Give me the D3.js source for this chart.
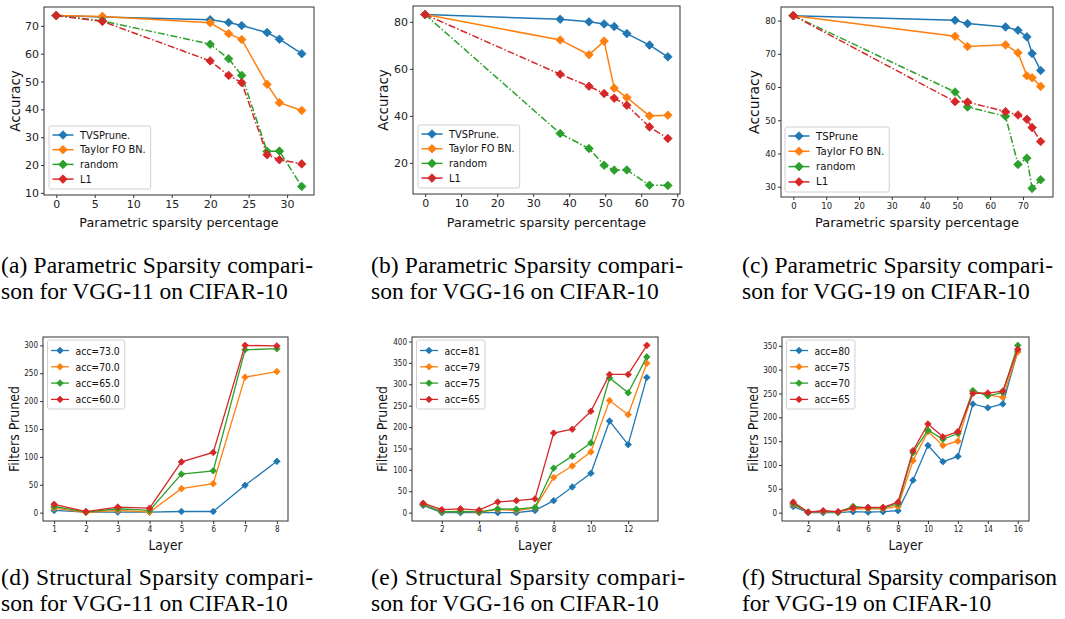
<!DOCTYPE html>
<html>
<head>
<meta charset="utf-8">
<script src="https://cdn.jsdelivr.net/npm/d3@7"></script>
<style>
  body { margin: 0; background: #fff; }
  svg { display: block; }
  .axis path, .axis line { stroke: #333; }
  .axis text { fill: #222; font-family: "DejaVu Sans", sans-serif; }
  .cap { font-family: "Liberation Serif", "Times New Roman", serif; fill: #000; }
</style>
</head>
<body>
<div id="figure"></div>
<script>
// ---- top row: accuracy vs parametric sparsity ----
var aX = [0, 6, 20, 22.4, 24.1, 27.4, 29, 31.9];
var aTVS = [73.7, 73.2, 72.2, 71.2, 70.1, 67.6, 65.2, 60.0];
var aTaylor = [73.7, 73.4, 71.1, 67.2, 65.1, 49.0, 42.4, 39.6];
var aRandom = [73.7, 71.8, 63.4, 58.2, 52.2, 24.9, 25.0, 12.3];
var aL1 = [73.7, 71.6, 57.4, 52.2, 49.6, 23.7, 21.9, 20.4];

var bX = [0, 37.5, 45.5, 49.7, 52.5, 56.0, 62.3, 67.4];
var bTVS = [83.1, 81.1, 80.0, 79.1, 78.0, 75.0, 70.1, 65.1];
var bTaylor = [83.1, 72.3, 66.0, 71.8, 51.8, 47.8, 40.0, 40.3];
var bRandom = [83.1, 32.5, 26.1, 19.0, 16.9, 17.0, 10.5, 10.4];
var bL1 = [83.1, 57.7, 52.6, 49.5, 47.5, 44.5, 35.3, 30.4];

var cX = [0, 49.3, 53.1, 64.7, 68.5, 71.2, 72.8, 75.4];
var cTS = [81.5, 80.1, 79.1, 78.1, 77.1, 75.1, 70.1, 65.0];
var cTaylor = [81.5, 75.3, 72.2, 72.7, 70.3, 63.4, 62.8, 60.2];
var cRandom = [81.5, 58.5, 54.0, 51.2, 36.7, 38.6, 29.5, 32.1];
var cL1 = [81.5, 55.6, 55.5, 52.6, 51.6, 50.3, 47.8, 43.6];

var methodNames = ["TVSPrune.", "Taylor FO BN.", "random", "L1"];
var methodNamesC = ["TSPrune", "Taylor FO BN.", "random", "L1"];

// ---- bottom row: filters pruned per layer ----
var dLayers = [1, 2, 3, 4, 5, 6, 7, 8];
var dAcc73 = [4, 1, 1, 1, 2, 2, 49, 92];
var dAcc70 = [8, 0, 4, 1, 43, 52, 243, 253];
var dAcc65 = [11, 1, 7, 4, 69, 75, 292, 294];
var dAcc60 = [15, 2, 10, 8, 91, 108, 300, 299];
var dNames = ["acc=73.0", "acc=70.0", "acc=65.0", "acc=60.0"];

var eLayers = [1, 2, 3, 4, 5, 6, 7, 8, 9, 10, 11, 12, 13];
var eAcc81 = [17, 0, 0, 0, 0, 0, 5, 28, 60, 92, 214, 159, 316];
var eAcc79 = [19, 2, 3, 1, 7, 5, 11, 82, 109, 142, 262, 229, 349];
var eAcc75 = [19, 2, 3, 2, 9, 8, 12, 104, 132, 163, 315, 280, 364];
var eAcc65 = [22, 7, 9, 6, 25, 28, 32, 186, 195, 237, 323, 323, 391];
var eNames = ["acc=81", "acc=79", "acc=75", "acc=65"];

var fLayers = [1, 2, 3, 4, 5, 6, 7, 8, 9, 10, 11, 12, 13, 14, 15, 16];
var fAcc80 = [13, 0, 0, 0, 2, 1, 2, 4, 68, 141, 107, 118, 228, 220, 228, 339];
var fAcc75 = [17, 1, 2, 1, 8, 8, 8, 13, 109, 170, 141, 150, 254, 247, 242, 337];
var fAcc70 = [19, 1, 3, 1, 13, 10, 10, 18, 126, 173, 154, 166, 256, 245, 252, 351];
var fAcc65 = [22, 1, 4, 2, 10, 11, 11, 22, 130, 186, 159, 170, 250, 251, 255, 343];
var fNames = ["acc=80", "acc=75", "acc=70", "acc=65"];

var colors = ["#1f77b4", "#ff7f0e", "#2ca02c", "#d62728"];

var captions = [
  ["(a) Parametric Sparsity compari-", "son for VGG-11 on CIFAR-10"],
  ["(b) Parametric Sparsity compari-", "son for VGG-16 on CIFAR-10"],
  ["(c) Parametric Sparsity compari-", "son for VGG-19 on CIFAR-10"],
  ["(d) Structural Sparsity compari-", "son for VGG-11 on CIFAR-10"],
  ["(e) Structural Sparsity compari-", "son for VGG-16 on CIFAR-10"],
  ["(f) Structural Sparsity comparison", "for VGG-19 on CIFAR-10"]
];

var W = 1065, H = 619;
var svg = d3.select("#figure").append("svg").attr("width", W).attr("height", H);

function diamond(r) {
  return "M0," + (-r) + "L" + r + ",0L0," + r + "L" + (-r) + ",0Z";
}

// matplotlib style 5% margins
function padded(vals) {
  var ext = d3.extent(vals);
  var p = (ext[1] - ext[0]) * 0.05;
  return [ext[0] - p, ext[1] + p];
}

function drawPanel(cfg) {
  var g = svg.append("g").attr("transform", "translate(" + cfg.box.x + "," + cfg.box.y + ")");
  var w = cfg.box.w, h = cfg.box.h;
  var allY = d3.merge(cfg.series);
  var x = d3.scaleLinear().domain(padded(cfg.xs)).range([0, w]);
  var y = d3.scaleLinear().domain(padded(allY)).range([h, 0]);

  var xa = g.append("g").attr("class", "axis").attr("transform", "translate(0," + h + ")")
    .call(d3.axisBottom(x).tickValues(cfg.xTicks).tickSize(3).tickPadding(2.5).tickFormat(d3.format("d")));
  var ya = g.append("g").attr("class", "axis")
    .call(d3.axisLeft(y).tickValues(cfg.yTicks).tickSize(3).tickPadding(2).tickFormat(d3.format("d")));
  [xa, ya].forEach(function (a) {
    a.select(".domain").remove();
    a.selectAll("text").style("font-size", cfg.tickFont + "px").style("font-family", cfg.font);
  });
  g.append("rect").attr("width", w).attr("height", h)
    .attr("fill", "none").attr("stroke", "#333").attr("stroke-width", 1);

  var line = d3.line().x(function (d) { return x(d[0]); }).y(function (d) { return y(d[1]); });
  cfg.series.forEach(function (vals, i) {
    var pts = cfg.xs.map(function (xv, j) { return [xv, vals[j]]; });
    g.append("path").datum(pts).attr("d", line)
      .attr("fill", "none").attr("stroke", colors[i]).attr("stroke-width", cfg.lw)
      .attr("stroke-dasharray", cfg.dashed[i] ? "7,2.2,1.5,2.2" : null);
    g.selectAll(null).data(pts).enter().append("path")
      .attr("d", diamond(cfg.mr))
      .attr("transform", function (d) { return "translate(" + x(d[0]) + "," + y(d[1]) + ")"; })
      .attr("fill", colors[i]).attr("stroke", colors[i]).attr("stroke-width", 0.8);
  });

  // axis titles
  g.append("text").attr("x", w / 2).attr("y", h + cfg.xlabOff)
    .attr("text-anchor", "middle").attr("dominant-baseline", "central")
    .style("font-family", cfg.font).style("font-size", cfg.labFont + "px").attr("fill", "#111")
    .text(cfg.xlab);
  g.append("text").attr("transform", "translate(" + (-cfg.ylabOff) + "," + (h / 2) + ") rotate(-90)")
    .attr("text-anchor", "middle").attr("dominant-baseline", "central")
    .style("font-family", cfg.font).style("font-size", cfg.ylabFont + "px").attr("fill", "#111")
    .text(cfg.ylab);

  // legend
  var L = cfg.legend;
  var lg = g.append("g");
  var bg = lg.append("rect").attr("rx", 2).attr("fill", "#fff").attr("fill-opacity", 0.85)
    .attr("stroke", "#d0d0d0").attr("stroke-width", 1);
  var maxLen = 0;
  cfg.names.forEach(function (nm, i) {
    var yy = L.y0 + i * L.dy;
    lg.append("line").attr("x1", L.x + 3.5).attr("x2", L.x + 3.5 + L.hl).attr("y1", yy).attr("y2", yy)
      .attr("stroke", colors[i]).attr("stroke-width", cfg.lw);
    lg.append("path").attr("d", diamond(cfg.mr))
      .attr("transform", "translate(" + (L.x + 3.5 + L.hl / 2) + "," + yy + ")")
      .attr("fill", colors[i]).attr("stroke", colors[i]).attr("stroke-width", 0.8);
    var t = lg.append("text").attr("x", L.x + L.hl + 10).attr("y", yy)
      .attr("dominant-baseline", "central")
      .style("font-family", cfg.font).style("font-size", L.font + "px").attr("fill", "#111")
      .text(nm);
    maxLen = Math.max(maxLen, t.node().getComputedTextLength());
  });
  bg.attr("x", L.x).attr("y", L.top)
    .attr("width", L.hl + 10 + maxLen + 5).attr("height", L.h);
}

var topFont = "'DejaVu Sans', sans-serif";
var botFont = "'DejaVu Sans Condensed', 'DejaVu Sans', sans-serif";

function topLegend(h) {
  return { x: 5, top: h - 69, h: 63, y0: h - 60, dy: 14.7, hl: 21, font: 9.8 };
}
function botLegend() {
  return { x: 4.5, top: 3, h: 69, y0: 13.5, dy: 16.3, hl: 18, font: 10.3 };
}

drawPanel({
  box: { x: 44, y: 7, w: 270, h: 188 }, xs: aX, series: [aTVS, aTaylor, aRandom, aL1],
  xTicks: [0, 5, 10, 15, 20, 25, 30], yTicks: [10, 20, 30, 40, 50, 60, 70],
  dashed: [false, false, true, true], lw: 1.5, mr: 4.3, tickFont: 11, labFont: 12.7, ylabFont: 13.5,
  font: topFont, xlab: "Parametric sparsity percentage", ylab: "Accuracy", xlabOff: 27, ylabOff: 29,
  names: methodNames, legend: topLegend(188)
});
drawPanel({
  box: { x: 413, y: 6, w: 267, h: 188 }, xs: bX, series: [bTVS, bTaylor, bRandom, bL1],
  xTicks: [0, 10, 20, 30, 40, 50, 60, 70], yTicks: [20, 40, 60, 80],
  dashed: [false, false, true, true], lw: 1.5, mr: 4.3, tickFont: 11, labFont: 12.7, ylabFont: 13.5,
  font: topFont, xlab: "Parametric sparsity percentage", ylab: "Accuracy", xlabOff: 28, ylabOff: 30,
  names: methodNames, legend: topLegend(188)
});
drawPanel({
  box: { x: 781, y: 7, w: 272, h: 190 }, xs: cX, series: [cTS, cTaylor, cRandom, cL1],
  xTicks: [0, 10, 20, 30, 40, 50, 60, 70], yTicks: [30, 40, 50, 60, 70, 80],
  dashed: [false, false, true, true], lw: 1.5, mr: 4.3, tickFont: 8.5, labFont: 13, ylabFont: 14,
  font: topFont, xlab: "Parametric sparsity percentage", ylab: "Accuracy", xlabOff: 25, ylabOff: 27.5,
  names: methodNamesC, legend: { x: 4, top: 120, h: 65, y0: 129, dy: 15.3, hl: 21, font: 10.2 }
});
drawPanel({
  box: { x: 43, y: 337, w: 245, h: 184 }, xs: dLayers, series: [dAcc73, dAcc70, dAcc65, dAcc60],
  xTicks: dLayers, yTicks: [0, 50, 100, 150, 200, 250, 300],
  dashed: [false, false, false, false], lw: 1.3, mr: 3.3, tickFont: 8, labFont: 13.5, ylabFont: 14,
  font: botFont, xlab: "Layer", ylab: "Filters Pruned", xlabOff: 24, ylabOff: 29,
  names: dNames, legend: botLegend()
});
drawPanel({
  box: { x: 412, y: 337, w: 246, h: 184 }, xs: eLayers, series: [eAcc81, eAcc79, eAcc75, eAcc65],
  xTicks: [2, 4, 6, 8, 10, 12], yTicks: [0, 50, 100, 150, 200, 250, 300, 350, 400],
  dashed: [false, false, false, false], lw: 1.3, mr: 3.3, tickFont: 8, labFont: 13.5, ylabFont: 14,
  font: botFont, xlab: "Layer", ylab: "Filters Pruned", xlabOff: 24, ylabOff: 30,
  names: eNames, legend: botLegend()
});
drawPanel({
  box: { x: 782, y: 337, w: 247, h: 184 }, xs: fLayers, series: [fAcc80, fAcc75, fAcc70, fAcc65],
  xTicks: [2, 4, 6, 8, 10, 12, 14, 16], yTicks: [0, 50, 100, 150, 200, 250, 300, 350],
  dashed: [false, false, false, false], lw: 1.3, mr: 3.3, tickFont: 8, labFont: 13.5, ylabFont: 14,
  font: botFont, xlab: "Layer", ylab: "Filters Pruned", xlabOff: 24, ylabOff: 29,
  names: fNames, legend: botLegend()
});

// sub-figure captions (first line justified to the column width, LaTeX style)
var capX = [1, 371, 742, 1, 371, 742];
var capY = [273, 273, 273, 585, 585, 585];
var capWidth = [312, 312, 311, 312, 314, 315];
captions.forEach(function (c, i) {
  svg.append("text").attr("class", "cap").attr("x", capX[i]).attr("y", capY[i])
    .style("font-size", "23.5px").attr("textLength", capWidth[i]).attr("lengthAdjust", "spacing")
    .text(c[0]);
  svg.append("text").attr("class", "cap").attr("x", capX[i]).attr("y", capY[i] + 26)
    .style("font-size", "23.5px").text(c[1]);
});
</script>
</body>
</html>
